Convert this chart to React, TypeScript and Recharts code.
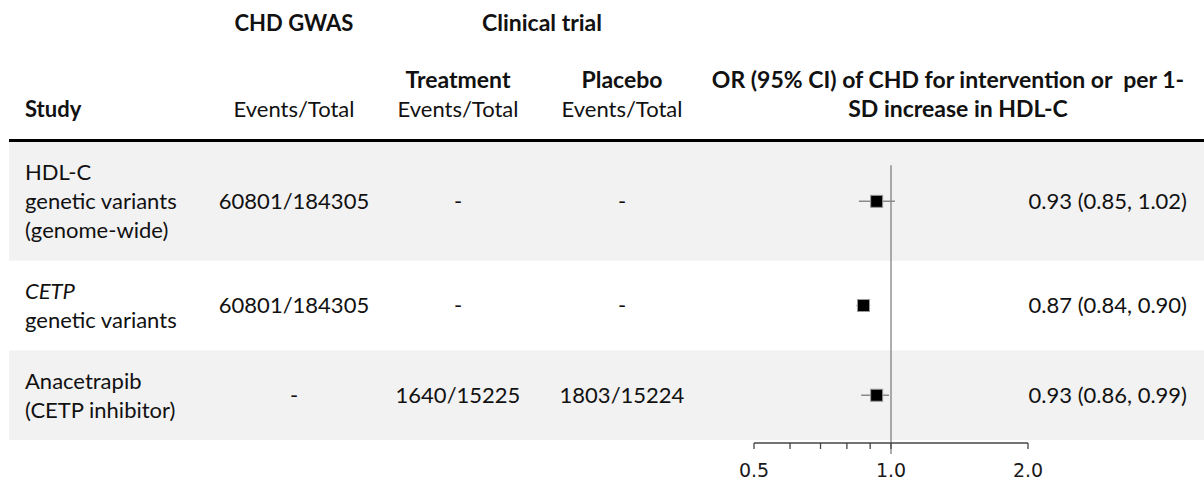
import React from 'react';
import { ComposedChart, Scatter, XAxis, YAxis, ReferenceLine, ErrorBar } from 'recharts';

// ---------- data ----------
const studyLabels: { text: string; italic?: boolean }[][] = [
  [{ text: 'HDL-C' }, { text: 'genetic variants' }, { text: '(genome-wide)' }],
  [{ text: 'CETP', italic: true }, { text: 'genetic variants' }],
  [{ text: 'Anacetrapib' }, { text: '(CETP inhibitor)' }],
];
const gwasEventsTotal = ['60801/184305', '60801/184305', '-'];
const treatmentEventsTotal = ['-', '-', '1640/15225'];
const placeboEventsTotal = ['-', '-', '1803/15224'];
const oddsRatios = [0.93, 0.87, 0.93];
const ciLower = [0.85, 0.84, 0.86];
const ciUpper = [1.02, 0.9, 0.99];
const xTicks = [0.5, 0.6, 0.7, 0.8, 0.9, 1, 2];
const xTickLabels: Record<string, string> = { '0.5': '0.5', '1': '1.0', '2': '2.0' };

// ---------- layout ----------
const W = 1204;
const H = 484;
const LEFT = 9;
const PLOT_LEFT = 754;
const PLOT_RIGHT = 1028;
const PLOT_TOP = 142;
const PLOT_BOTTOM = 443;
const ROW_PAD = 1.1; // in text-line units
const BOTTOM_GAP = 0.1;
const LINE_PX = 29;
const FONT = 'Lato, "Open Sans", sans-serif';
const FS = 22;
const TEXT = '#111';

const rowUnits = studyLabels.map((l) => l.length + ROW_PAD);
const rowStarts: number[] = [];
rowUnits.reduce((acc, u) => {
  rowStarts.push(acc);
  return acc + u;
}, 0);
const rowCenters = rowUnits.map((u, i) => rowStarts[i] + u / 2);
const Y_MAX = rowUnits.reduce((a, b) => a + b, 0) + BOTTOM_GAP;
const PX_PER_UNIT = (PLOT_BOTTOM - PLOT_TOP) / Y_MAX;

const forestData = oddsRatios.map((or, i) => ({
  pos: rowCenters[i],
  or,
  err: [or - ciLower[i], ciUpper[i] - or],
}));

const fmt = (v: number) => v.toFixed(2);

function RowTick(props: any) {
  const { y, payload } = props;
  let i = rowCenters.findIndex((c) => Math.abs(c - payload.value) < 1e-6);
  if (i < 0) i = props.index ?? 0;
  const lines = studyLabels[i];
  const n = lines.length;
  const common = { fontFamily: FONT, fontSize: FS, fill: TEXT, dy: '0.36em' } as any;
  return (
    <g>
      {lines.map((l, k) => (
        <text
          key={k}
          x={25}
          y={y + (k - (n - 1) / 2) * LINE_PX}
          textAnchor="start"
          fontStyle={l.italic ? 'italic' : 'normal'}
          {...common}
        >
          {l.text}
        </text>
      ))}
      <text x={294} y={y} textAnchor="middle" {...common}>{gwasEventsTotal[i]}</text>
      <text x={458} y={y} textAnchor="middle" {...common}>{treatmentEventsTotal[i]}</text>
      <text x={622} y={y} textAnchor="middle" {...common}>{placeboEventsTotal[i]}</text>
      <text x={1187} y={y} textAnchor="end" {...common}>
        {`${fmt(oddsRatios[i])} (${fmt(ciLower[i])}, ${fmt(ciUpper[i])})`}
      </text>
    </g>
  );
}

function XTick(props: any) {
  const { x, y, payload } = props;
  const label = xTickLabels[String(payload.value)] ?? '';
  if (!label) return null;
  return (
    <text
      x={x}
      y={y}
      dy={14}
      textAnchor="middle"
      fontFamily='"DejaVu Sans", sans-serif'
      fontSize={19}
      fill="#1a1a1a"
    >
      {label}
    </text>
  );
}

function Box(props: any) {
  const { cx, cy } = props;
  if (cx == null || cy == null) return null;
  return <rect x={cx - 6} y={cy - 6} width={12} height={12} fill="#000" stroke="#9a9a9a" strokeWidth={1} />;
}

function Background() {
  const hdr = { fontFamily: FONT, fontSize: FS, fill: TEXT } as any;
  const hdrB = { fontFamily: FONT, fontSize: 23, fill: TEXT, fontWeight: 'bold' } as any;
  return (
    <svg width={W} height={H} style={{ position: 'absolute', left: 0, top: 0 }}>
      <rect x={0} y={0} width={W} height={H} fill="#fff" />
      {rowUnits.map((u, i) =>
        i % 2 === 0 ? (
          <rect
            key={i}
            x={LEFT}
            y={PLOT_TOP + rowStarts[i] * PX_PER_UNIT}
            width={W - LEFT}
            height={u * PX_PER_UNIT}
            fill="#f2f2f2"
          />
        ) : null
      )}
      <rect x={LEFT} y={139} width={W - LEFT} height={3} fill="#000" />
      <text x={294} y={31} textAnchor="middle" {...hdrB} fontSize={22}>CHD GWAS</text>
      <text x={542} y={31} textAnchor="middle" {...hdrB}>Clinical trial</text>
      <text x={458} y={88} textAnchor="middle" {...hdrB}>Treatment</text>
      <text x={622} y={88} textAnchor="middle" {...hdrB}>Placebo</text>
      <text x={25} y={117} textAnchor="start" {...hdrB} fontSize={22}>Study</text>
      <text x={294} y={117} textAnchor="middle" {...hdr}>Events/Total</text>
      <text x={458} y={117} textAnchor="middle" {...hdr}>Events/Total</text>
      <text x={622} y={117} textAnchor="middle" {...hdr}>Events/Total</text>
      <text x={948} y={88} textAnchor="middle" style={{ whiteSpace: 'pre' }} {...hdrB}>
        {'OR (95% CI) of CHD for intervention or  per 1-'}
      </text>
      <text x={958} y={117} textAnchor="middle" {...hdrB}>SD increase in HDL-C</text>
    </svg>
  );
}

export default function App() {
  return (
    <div style={{ position: 'absolute', left: 0, top: 0, width: W, height: H, background: '#fff' }}>
      <Background />
      <div style={{ position: 'absolute', left: 0, top: 0 }}>
        <ComposedChart
          width={W}
          height={H}
          data={forestData}
          margin={{ top: PLOT_TOP, right: W - PLOT_RIGHT, bottom: 0, left: LEFT }}
        >
          <XAxis
            dataKey="or"
            type="number"
            scale="log"
            domain={[0.5, 2]}
            ticks={xTicks}
            interval={0}
            allowDataOverflow
            height={H - PLOT_BOTTOM}
            axisLine={{ stroke: '#444', strokeWidth: 1.3 }}
            tickLine={{ stroke: '#444', strokeWidth: 1.3 }}
            tickSize={6}
            tickMargin={14}
            tick={<XTick />}
          />
          <YAxis
            dataKey="pos"
            type="number"
            domain={[0, Y_MAX]}
            reversed
            ticks={rowCenters}
            interval={0}
            allowDataOverflow
            width={PLOT_LEFT - LEFT}
            tickLine={false}
            axisLine={false}
            tick={<RowTick />}
          />
          <ReferenceLine
            segment={[
              { x: 1, y: 0.8 },
              { x: 1, y: Y_MAX + 0.38 },
            ]}
            stroke="#777"
            strokeWidth={1.2}
            ifOverflow="visible"
          />
          <Scatter data={forestData} dataKey="pos" shape={<Box />} isAnimationActive={false}>
            <ErrorBar dataKey="err" direction="x" width={0} stroke="#8a8a8a" strokeWidth={1.5} isAnimationActive={false} />
          </Scatter>
        </ComposedChart>
      </div>
    </div>
  );
}
